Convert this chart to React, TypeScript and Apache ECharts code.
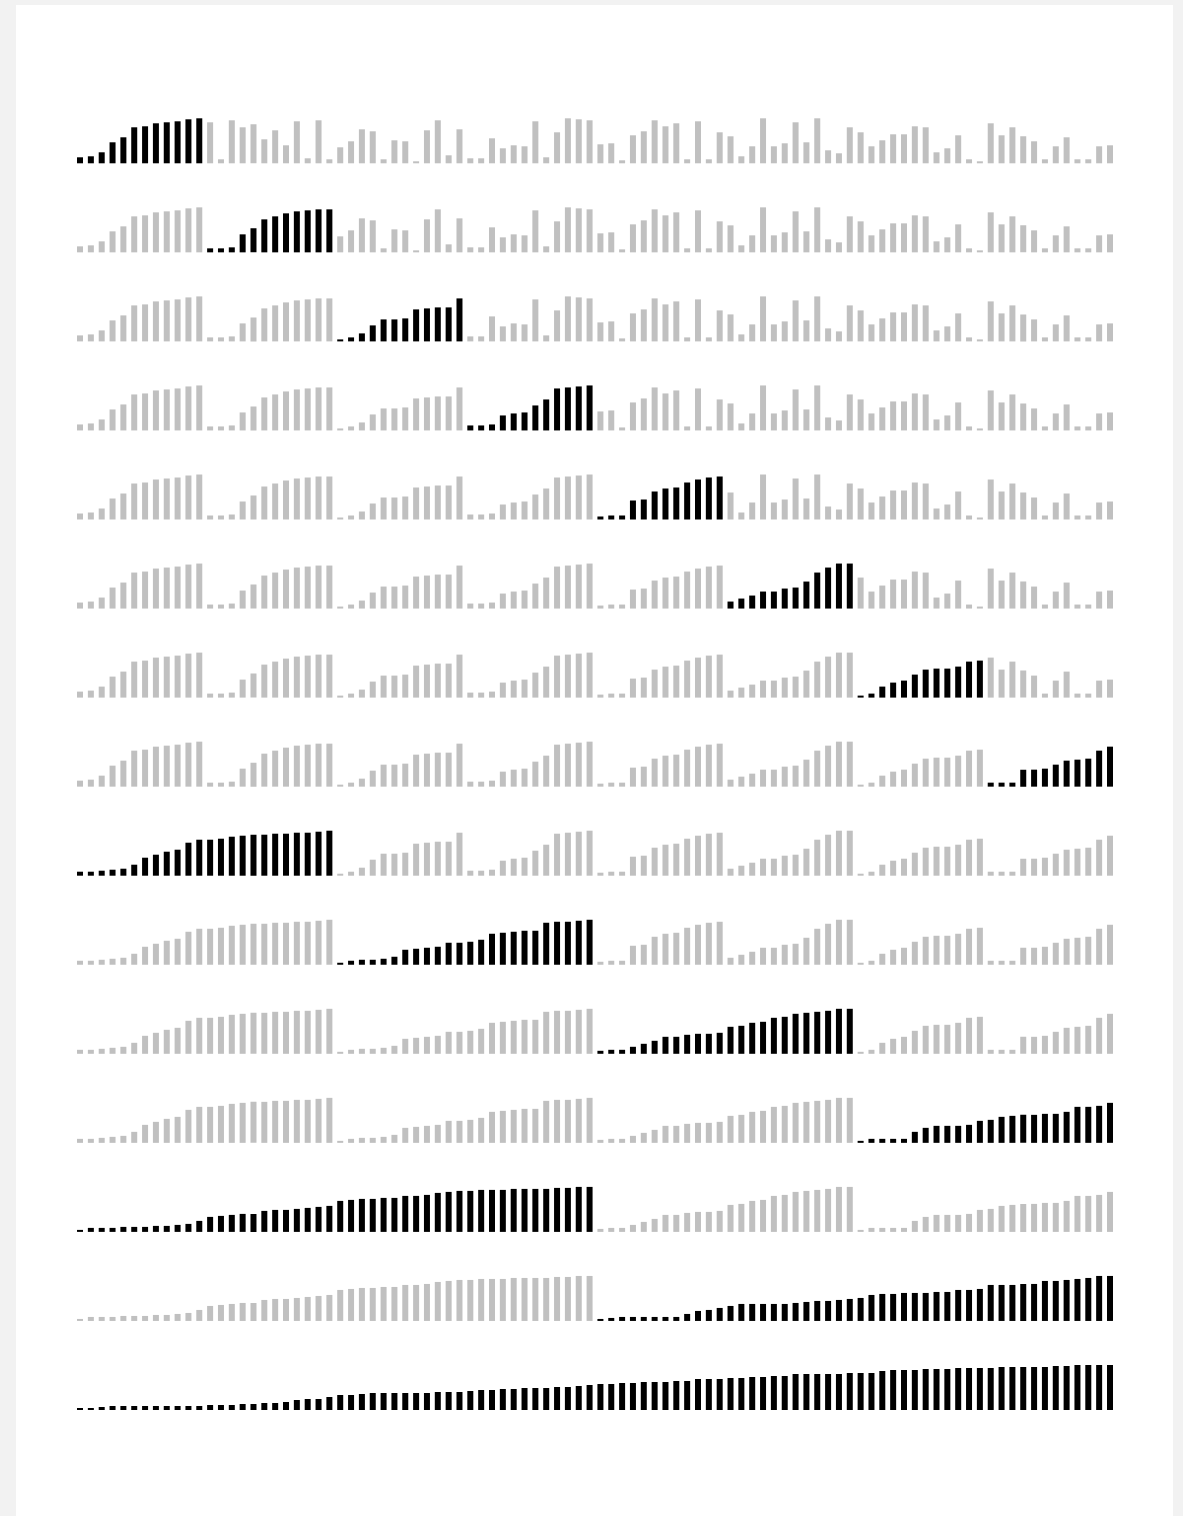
import React, { useEffect, useRef } from "react";
import * as echarts from "echarts";

// Original sequence of 96 values (read from the first row; first chunk shown already sorted)
const rawValues: number[] = [
  6, 7, 11, 21, 26, 36, 37, 40, 41, 42, 44, 45,
  41, 4, 43, 36, 39, 24, 33, 18, 42, 5, 43, 4,
  16, 22, 34, 32, 4, 23, 22, 2, 33, 43, 8, 34,
  5, 5, 25, 15, 18, 17, 42, 6, 31, 45, 44, 43,
  19, 20, 3, 28, 32, 43, 37, 40, 4, 42, 4, 31,
  27, 7, 17, 45, 17, 20, 41, 21, 45, 13, 10, 36,
  31, 17, 23, 29, 29, 37, 36, 11, 15, 28, 4, 2,
  40, 28, 36, 27, 22, 4, 17, 26, 4, 4, 17, 18,
];

// Each step sorts / merges the range [start, end) which is then highlighted
const stepRanges: [number, number][] = [
  [0, 12], [12, 24], [24, 36], [36, 48], [48, 60], [60, 72], [72, 84], [84, 96],
  [0, 24], [24, 48], [48, 72], [72, 96],
  [0, 48], [48, 96],
  [0, 96],
];

const categories: string[] = rawValues.map((_, i) => String(i + 1));

const ACTIVE = "#000000";
const INACTIVE = "#c0c0c0";

function buildSnapshots(): number[][] {
  const arr = rawValues.slice();
  const out: number[][] = [];
  for (const [s, e] of stepRanges) {
    const part = arr.slice(s, e).sort((a, b) => a - b);
    for (let i = s; i < e; i++) arr[i] = part[i - s];
    out.push(arr.slice());
  }
  return out;
}

export default function App() {
  const ref = useRef<HTMLDivElement>(null);
  useEffect(() => {
    if (!ref.current) return;
    const chart = echarts.init(ref.current, undefined, { renderer: "svg" });
    const snaps = buildSnapshots();
    const firstBase = 163.3;
    const rowStep = 89.05;
    const barMaxH = 45;
    const left = 74.6;
    const width = 1040.8;
    const grids: any[] = [];
    const xAxes: any[] = [];
    const yAxes: any[] = [];
    const series: any[] = [];
    snaps.forEach((vals, k) => {
      const [s, e] = stepRanges[k];
      grids.push({
        left,
        width,
        top: firstBase + rowStep * k - barMaxH,
        height: barMaxH,
        outerBoundsMode: "none",
        containLabel: false,
      });
      xAxes.push({
        type: "category",
        gridIndex: k,
        data: categories,
        show: false,
        boundaryGap: true,
      });
      yAxes.push({
        type: "value",
        gridIndex: k,
        min: 0,
        max: 45,
        show: false,
      });
      series.push({
        type: "bar",
        xAxisIndex: k,
        yAxisIndex: k,
        barWidth: 6,
        silent: true,
        data: vals.map((v, i) => ({
          value: v,
          itemStyle: { color: i >= s && i < e ? ACTIVE : INACTIVE },
        })),
      });
    });
    chart.setOption({
      animation: false,
      grid: grids,
      xAxis: xAxes,
      yAxis: yAxes,
      series,
    });
    return () => chart.dispose();
  }, []);
  return (
    <div
      style={{
        position: "absolute",
        left: 0,
        top: 0,
        width: 1183,
        height: 1516,
        background: "#f2f2f2",
        overflow: "hidden",
      }}
    >
      <div
        style={{
          position: "absolute",
          left: 16,
          top: 5,
          width: 1157,
          height: 1511,
          background: "#ffffff",
        }}
      />
      <div
        ref={ref}
        style={{ position: "absolute", left: 0, top: 0, width: 1183, height: 1516 }}
      />
    </div>
  );
}
